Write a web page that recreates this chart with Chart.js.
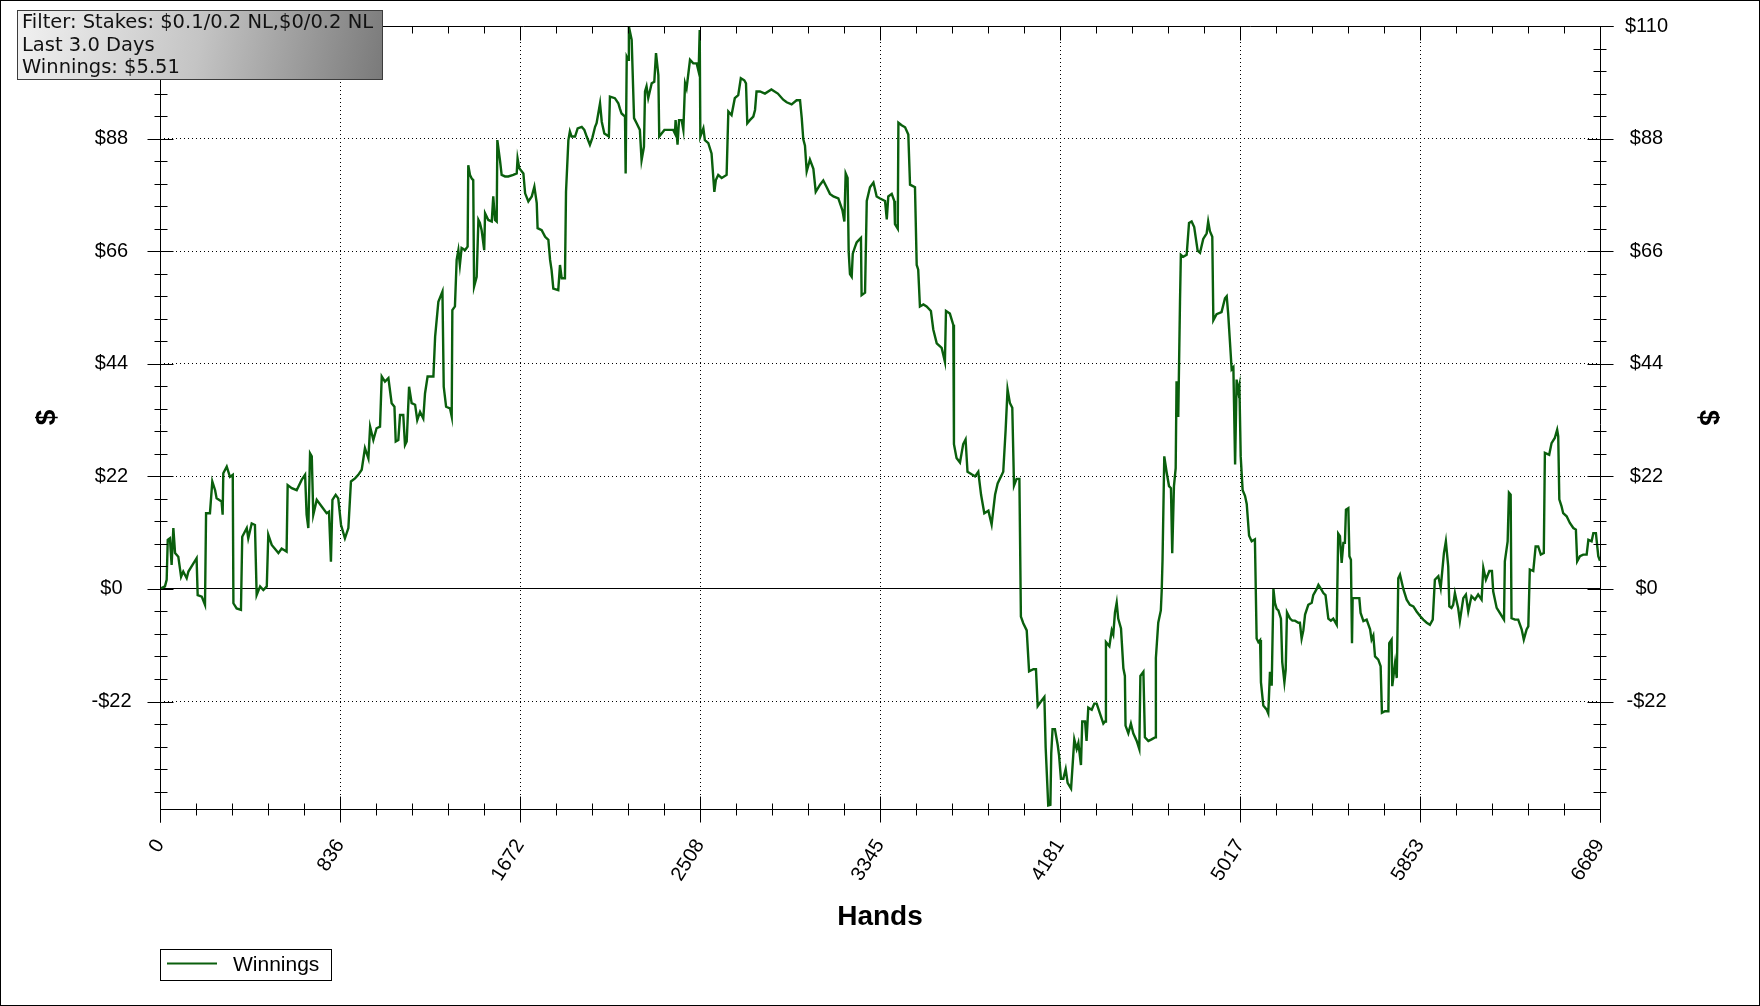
<!DOCTYPE html>
<html>
<head>
<meta charset="utf-8">
<title>Winnings</title>
<script src="https://cdn.jsdelivr.net/npm/chart.js@4.4.1/dist/chart.umd.min.js"></script>
<style>
  html, body { margin: 0; padding: 0; background: #fff; }
  #chart-winnings { display: block; }
</style>
</head>
<body>
<canvas id="chart-winnings" width="1760" height="1006"></canvas>
<script>
// hands played (x) and running winnings in $ (y)
const hands = [
  0, 23, 31, 36, 46, 54, 62, 70, 85, 98,
  108, 124, 132, 170, 175, 194, 209, 214, 232, 243,
  256, 263, 286, 291, 294, 310, 325, 338, 341, 356,
  376, 382, 403, 410, 426, 441, 449, 465, 480, 496,
  503, 519, 550, 565, 588, 593, 612, 635, 658, 674,
  681, 689, 697, 705, 712, 728, 751, 774, 785, 794,
  801, 816, 828, 841, 859, 875, 887, 906, 921, 937,
  952, 968, 976, 991, 1006, 1022, 1030, 1045, 1061, 1076,
  1089, 1095, 1107, 1115, 1130, 1138, 1146, 1157, 1169, 1185,
  1195, 1208, 1223, 1231, 1243, 1270, 1278, 1293, 1312, 1318,
  1329, 1347, 1355, 1358, 1370,
  1378, 1386, 1393, 1401, 1417, 1429, 1432, 1440, 1448, 1455,
  1459, 1471, 1479, 1486, 1494, 1506, 1510, 1525, 1541, 1548,
  1556, 1564, 1567, 1580, 1587, 1603, 1618, 1641, 1657, 1661,
  1669, 1688, 1696, 1711, 1727, 1739, 1750, 1754, 1773, 1789,
  1804, 1812, 1819, 1827, 1850, 1858, 1866, 1881, 1886, 1897,
  1904, 1912, 1928, 1940, 1959, 1971, 1982, 1997, 2008, 2021,
  2028, 2044, 2052, 2064, 2075, 2085, 2090, 2113, 2129, 2136,
  2144, 2160, 2163, 2168, 2175, 2178, 2191, 2202, 2214, 2229,
  2237, 2248, 2253, 2260, 2268, 2284, 2296, 2304, 2315, 2319,
  2330, 2343, 2361, 2384, 2392, 2395, 2404, 2411, 2423, 2431,
  2439, 2446, 2462, 2477, 2493, 2502, 2507, 2510, 2524, 2531,
  2547, 2562, 2575, 2582, 2593, 2609, 2632, 2640, 2655, 2670,
  2686, 2698, 2714, 2722, 2728, 2740, 2756, 2764, 2771, 2787,
  2810, 2840, 2870, 2895,
  2911, 2934, 2957, 2973, 2981, 2988, 2996, 3004, 3019, 3035,
  3046, 3066, 3081, 3097, 3112, 3128, 3151, 3170, 3179, 3185,
  3194, 3199, 3205, 3213, 3218, 3228, 3236, 3247, 3256, 3259,
  3275, 3283, 3298, 3314, 3329, 3345, 3368, 3376, 3383, 3399,
  3411, 3414, 3427, 3430, 3445, 3461, 3476, 3484, 3507, 3515,
  3522, 3530, 3546, 3561, 3581, 3592, 3608, 3631, 3646, 3651,
  3669, 3685, 3688, 3700, 3716, 3731, 3742, 3751, 3770, 3786,
  3801, 3814, 3829, 3848, 3863, 3879, 3891, 3917, 3928, 3937,
  3948, 3959, 3967, 3979, 3992, 3999, 4010, 4026, 4037, 4057,
  4069, 4077, 4092, 4108, 4114, 4126, 4136, 4140, 4146, 4157,
  4170, 4176, 4185, 4196, 4207, 4216, 4232, 4238, 4247, 4258,
  4266, 4278, 4284, 4297, 4304, 4312, 4328, 4340, 4351, 4366,
  4382, 4390, 4394, 4410, 4421, 4428, 4436, 4444, 4451, 4464,
  4475, 4482, 4485, 4498, 4510, 4521, 4537, 4549, 4554, 4568,
  4575, 4591, 4606, 4622, 4626, 4637, 4649, 4653, 4657, 4665,
  4676, 4687, 4696, 4702, 4710, 4718, 4722, 4730, 4738, 4742,
  4753, 4769, 4780, 4792, 4804, 4820, 4831, 4846, 4862, 4869,
  4877, 4888, 4893, 4908, 4931, 4947, 4955, 4962, 4970, 4978,
  4986, 4994, 5001, 5009, 5014, 5020, 5029, 5040, 5048, 5059,
  5071, 5086, 5094, 5102, 5110, 5114, 5125, 5141, 5148, 5156,
  5164, 5172, 5179, 5187, 5195, 5207, 5213, 5223, 5229, 5235,
  5249, 5260, 5272, 5288, 5295, 5303, 5311, 5319, 5334, 5350,
  5357, 5373, 5381, 5393, 5404, 5414, 5427, 5439, 5450, 5466,
  5473, 5481,
  5489, 5497, 5504, 5509, 5520, 5525, 5532, 5537, 5540, 5556,
  5571, 5577, 5590, 5605, 5621, 5628, 5636, 5644, 5659, 5670,
  5676, 5690, 5706, 5710, 5721, 5724, 5737, 5745, 5752, 5760,
  5776, 5791, 5806, 5822, 5837, 5853, 5868, 5884, 5899, 5912,
  5922, 5938, 5949, 5964, 5973, 5984, 5989, 5999, 6007, 6015,
  6023, 6030, 6038, 6054, 6066, 6077, 6092, 6108, 6123, 6139,
  6147, 6159, 6175, 6187, 6193, 6209, 6224, 6243, 6247, 6260,
  6266, 6274, 6278, 6294, 6309, 6325, 6335, 6348, 6356, 6363,
  6379, 6390, 6402, 6414, 6428, 6433, 6453, 6464, 6479, 6490,
  6495, 6500, 6510, 6518, 6534, 6549, 6565, 6577, 6583, 6596,
  6611, 6627, 6635, 6650, 6658, 6670, 6681, 6689
];
const winnings = [
  0, 0.5, 1.8, 9.6, 9.9, 4.7, 11.9, 7.0, 6.3, 2.4,
  3.4, 2.1, 3.4, 6.0, -1.2, -1.5, -3.1, 14.8, 14.8, 21.0,
  19.3, 17.7, 17.1, 14.5, 22.6, 23.9, 21.9, 22.3, -2.8, -3.8,
  -4.1, 10.2, 11.9, 9.9, 12.8, 12.5, -1.2, 0.5, -0.2, 0.5,
  10.6, 8.6, 7.0, 7.9, 7.3, 20.3, 19.7, 19.3, 21.3, 22.3,
  14.5, 11.9, 26.5, 25.9, 14.5, 17.4, 16.1, 14.8, 15.1, 5.3,
  17.4, 18.4, 17.7, 12.5, 9.9, 11.9, 21.0, 21.6, 22.3, 23.3,
  27.5, 25.5, 31.7, 29.1, 31.4, 31.7, 41.5, 40.5, 41.2, 36.3,
  35.6, 28.8, 29.1, 34.0, 34.0, 28.1, 28.8, 39.5, 36.3, 36.0,
  33.0, 34.6, 33.3, 38.2, 41.5, 41.5, 49.3, 56.1, 58.1, 39.5,
  35.6, 35.3, 33.7, 54.5, 55.2,
  64.3, 66.2, 63.3, 66.6, 66.2, 66.9, 82.8, 80.9, 80.2, 79.9,
  59.1, 61.0, 72.1, 71.5, 70.1, 66.2, 73.4, 72.1, 71.8, 76.7,
  72.1, 71.8, 87.7, 83.5, 80.9, 80.6, 80.6, 80.9, 81.2, 84.1,
  82.2, 81.2, 77.3, 75.7, 76.7, 78.6, 75.4, 70.5, 70.1, 68.8,
  68.2, 64.3, 62.3, 58.7, 58.4, 63.3, 60.7, 60.7, 77.6, 87.7,
  89.4, 88.4, 88.4, 90.0, 90.3, 89.7, 88.4, 86.8, 88.1, 90.3,
  91.0, 94.9, 91.3, 89.0, 88.7, 88.4, 96.2, 95.9, 94.9, 93.9,
  92.9, 92.3, 81.2, 104.0, 103.4, 109.9, 107.3, 92.0, 91.0, 89.7,
  83.8, 86.4, 97.2, 98.2, 95.9, 98.8, 99.1, 104.7, 100.4, 88.4,
  89.0, 89.7, 89.7, 89.7, 89.0, 91.6, 86.8, 91.6, 91.6, 89.7,
  98.8, 97.8, 103.4, 102.7, 102.7, 101.1, 109.2, 88.4, 90.0, 87.7,
  87.1, 85.1, 77.6, 79.9, 80.9, 80.3, 80.9, 93.3, 92.6, 95.9,
  96.5, 99.8, 99.4, 98.8, 91.0, 91.6, 92.3, 93.6, 97.2, 97.2,
  96.8, 97.6, 96.8, 95.6,
  95.1, 94.7, 95.5, 95.5, 92.0, 87.9, 86.6, 81.6, 83.9, 82.1,
  77.6, 79.0, 79.8, 78.5, 77.2, 76.7, 76.3, 74.0, 71.8, 81.2,
  80.3, 65.9, 61.5, 61.0, 65.5, 66.8, 67.7, 68.2, 68.6, 57.4,
  57.9, 75.8, 78.5, 79.4, 76.7, 76.3, 75.8, 72.2, 76.7, 77.2,
  75.8, 71.3, 70.4, 91.1, 90.6, 90.2, 88.8, 79.0, 78.5, 63.3,
  62.4, 55.2, 55.6, 55.2, 54.3, 50.7, 48.0, 47.1, 44.4, 54.3,
  53.8, 51.6, 28.3, 25.6, 24.7, 28.3, 29.2, 22.9, 22.4, 22.0,
  22.9, 18.4, 14.8, 15.3, 12.6, 18.4, 20.6, 22.9, 31.0, 39.0,
  36.3, 35.4, 20.2, 21.5, 21.5, -5.4, -6.7, -8.1, -16.1, -15.7,
  -15.7, -22.9, -22.0, -21.1, -31.0, -42.3, -42.2, -32.1, -27.4, -27.4,
  -30.5, -32.4, -37.1, -37.1, -35.2, -37.9, -39.0, -35.2, -29.4, -31.3,
  -30.1, -34.4, -25.9, -25.9, -29.7, -23.2, -23.6, -22.4, -22.4, -24.3,
  -26.3, -25.9, -10.4, -11.2, -8.1, -8.9, -4.6, -2.7, -5.8, -7.7,
  -15.5, -17.0, -26.7, -28.2, -26.3, -28.2, -29.7, -31.3, -17.0, -16.2,
  -29.0, -29.7, -29.4, -29.0, -13.5, -6.6, -4.2, -0.4, 5.8, 25.9,
  22.8, 20.1, 19.7, 7.0, 20.1, 23.6, 40.6, 33.6, 56.0, 65.3,
  64.9, 65.3, 71.5, 71.8, 70.7, 66.1, 65.7, 68.4, 69.5, 71.8,
  69.9, 68.8, 52.5, 53.7, 54.1, 56.8, 57.2, 53.7, 48.3, 42.9,
  43.3, 24.3, 40.9, 38.6, 39.7, 25.9, 19.3, 18.2, 16.6, 10.4,
  9.3, 9.7, -9.7, -10.4, -10.0, -18.2, -22.8, -23.6, -24.3, -16.2,
  -18.9, 0.0, -2.7, -3.9, -4.2, -5.8, -14.3, -18.2, -15.8, -4.6,
  -5.8, -6.2, -6.2, -6.6, -6.6, -9.7, -8.1, -5.0, -3.1, -2.7,
  -1.2, 0.0, 0.8, 0.0, -0.8, -1.2, -5.8, -6.2, -5.8, -7.0,
  10.8, 10.3,
  5.1, 9.0, 9.0, 15.5, 15.8, 6.4, 5.7, -10.6, -1.8, -1.8,
  -1.8, -4.7, -6.3, -6.0, -7.9, -9.9, -9.1, -13.2, -13.8, -15.1,
  -24.2, -23.9, -23.9, -10.6, -9.9, -19.0, -14.5, -17.4, 2.1, 2.8,
  -0.1, -2.1, -3.1, -3.4, -4.4, -5.3, -6.0, -6.6, -7.0, -6.0,
  1.8, 2.5, 0.2, 7.0, 9.3, 4.4, -3.4, -3.7, -3.1, -0.8,
  -2.4, -3.7, -6.3, -1.8, -1.1, -4.4, -1.4, -2.1, -1.1, -2.1,
  4.1, 1.8, 3.5, 3.5, -0.5, -3.7, -4.7, -6.0, 5.4, 9.3,
  18.8, 18.4, -5.7, -6.0, -6.0, -7.9, -9.9, -7.9, -7.3, 3.8,
  3.5, 8.3, 8.3, 6.7, 7.0, 26.6, 26.2, 28.5, 29.5, 31.1,
  29.8, 17.5, 16.2, 14.8, 14.2, 12.9, 11.9, 11.6, 5.4, 6.4,
  6.7, 6.7, 9.6, 9.3, 10.9, 10.9, 6.4, 5.51
];

const handsTotal = 6689;
const xTickLabels = ['0', '836', '1672', '2508', '3345', '4181', '5017', '5853', '6689'];
const yTicks = [-22, 0, 22, 44, 66, 88, 110];
const yMin = -43;
const yMax = 110;
const yMinorStep = 4.4;
const filterLines = ['Filter: Stakes: $0.1/0.2 NL,$0/0.2 NL', 'Last 3.0 Days', 'Winnings: $5.51'];

const lineColor = '#0a5f0d';
const dollar = (v) => (v < 0 ? '-$' + Math.abs(v) : '$' + v);

function setXTicks(scale) {
  const step = handsTotal / (xTickLabels.length - 1);
  scale.ticks = xTickLabels.map((_, i) => ({ value: i * step }));
}
function setYTicks(scale) {
  scale.ticks = yTicks.map((v) => ({ value: v }));
}
// fixed gutter width; drop the label padding so the plot keeps its top edge
function fitYAxis(scale) {
  scale.width = 160;
  scale.paddingTop = 0;
  scale.paddingBottom = 0;
}

// axis lines + crossing tick marks, like the original tracker graph
const axisFrame = {
  id: 'axisFrame',
  afterDatasetsDraw(chart) {
    const { ctx, chartArea: a, scales: { x, y } } = chart;
    const L = Math.round(a.left) + 0.5;
    const R = Math.round(a.right) + 0.5;
    const T = Math.round(a.top) + 0.5;
    const B = Math.round(a.bottom) + 0.5;
    ctx.save();
    ctx.strokeStyle = '#000';
    ctx.lineWidth = 1;
    const line = (x1, y1, x2, y2) => {
      ctx.beginPath();
      ctx.moveTo(x1, y1);
      ctx.lineTo(x2, y2);
      ctx.stroke();
    };
    line(L, T, L, B + 13);
    line(R, T, R, B + 13);
    line(L, T, R + 13, T);
    line(L, B, R, B);

    const xStep = handsTotal / (xTickLabels.length - 1) / 5;
    for (let i = 0; i <= (xTickLabels.length - 1) * 5; i++) {
      const px = Math.round(x.getPixelForValue(i * xStep)) + 0.5;
      const major = i % 5 === 0;
      line(px, B - (major ? 13 : 6), px, B + (major ? 13 : 6));
      line(px, T, px, T + (major ? 14 : 7));
    }
    for (let k = Math.ceil(yMin / yMinorStep); k <= Math.floor(yMax / yMinorStep + 0.001); k++) {
      const py = Math.round(y.getPixelForValue(k * yMinorStep)) + 0.5;
      const major = k % 5 === 0;
      line(L - (major ? 13 : 6), py, L + (major ? 13 : 7), py);
      line(R - (major ? 13 : 7), py, R + (major ? 13 : 6), py);
    }
    ctx.restore();
  },
  afterDraw(chart) {
    const ctx = chart.ctx;
    ctx.save();

    // filter info box
    const grad = ctx.createLinearGradient(17, 10, 382, 79);
    grad.addColorStop(0, '#f2f2f2');
    grad.addColorStop(0.5, '#c4c4c4');
    grad.addColorStop(1, '#7a7a7a');
    ctx.fillStyle = grad;
    ctx.fillRect(17.5, 10.5, 365, 69);
    ctx.strokeStyle = '#3c3c3c';
    ctx.lineWidth = 1;
    ctx.strokeRect(17.5, 10.5, 365, 69);
    ctx.fillStyle = '#111';
    ctx.font = '19.5px "DejaVu Sans", Verdana, sans-serif';
    ctx.textAlign = 'left';
    ctx.textBaseline = 'alphabetic';
    filterLines.forEach((t, i) => ctx.fillText(t, 22, 28 + i * 22.5));

    // legend
    ctx.strokeStyle = '#000';
    ctx.strokeRect(160.5, 949.5, 171, 31);
    ctx.strokeStyle = lineColor;
    ctx.lineWidth = 2;
    ctx.beginPath();
    ctx.moveTo(167, 963.5);
    ctx.lineTo(217, 963.5);
    ctx.stroke();
    ctx.fillStyle = '#000';
    ctx.font = '21px "Liberation Sans", Arial, sans-serif';
    ctx.fillText(chart.data.datasets[0].label, 233, 971);

    // outer frame
    ctx.strokeStyle = '#000';
    ctx.lineWidth = 1;
    ctx.strokeRect(0.5, 0.5, 1759, 1005);
    ctx.restore();
  }
};

Chart.defaults.font.family = '"Liberation Sans", Arial, sans-serif';
Chart.defaults.color = '#000';

const ctx = document.getElementById('chart-winnings').getContext('2d');
new Chart(ctx, {
  type: 'line',
  data: {
    datasets: [
      {
        label: 'Winnings',
        data: hands.map((h, i) => ({ x: h, y: winnings[i] })),
        borderColor: lineColor,
        borderWidth: 2.4,
        pointRadius: 0,
        tension: 0,
        fill: false,
        yAxisID: 'y',
      },
    ],
  },
  options: {
    responsive: false,
    animation: false,
    devicePixelRatio: 1,
    layout: { padding: { top: 26, left: 0, right: 0, bottom: 0 } },
    plugins: { legend: { display: false }, tooltip: { enabled: false } },
    scales: {
      x: {
        type: 'linear',
        position: 'bottom',
        min: 0,
        max: handsTotal,
        afterBuildTicks: setXTicks,
        afterFit: (s) => { s.height = 197; },
        ticks: {
          autoSkip: false,
          minRotation: 58,
          maxRotation: 58,
          padding: 26,
          font: { size: 20 },
          callback: (v, i) => xTickLabels[i],
        },
        grid: {
          drawTicks: false,
          color: (c) => (c.tick && (c.tick.value <= 0 || c.tick.value >= handsTotal) ? 'rgba(0,0,0,0)' : '#000'),
        },
        border: { display: false, dash: [1, 3] },
        title: {
          display: true,
          text: 'Hands',
          font: { size: 28, weight: 'bold' },
          padding: { top: 0, bottom: 72 },
        },
      },
      y: {
        type: 'linear',
        position: 'left',
        min: yMin,
        max: yMax,
        afterBuildTicks: setYTicks,
        afterFit: fitYAxis,
        ticks: {
          crossAlign: 'center',
          padding: 27,
          font: { size: 20 },
          callback: dollar,
        },
        grid: {
          drawTicks: false,
          color: (c) => (c.tick && c.tick.value >= yMax ? 'rgba(0,0,0,0)' : '#000'),
        },
        border: { display: false, dash: (c) => (c.tick && c.tick.value === 0 ? [] : [1, 3]) },
        title: {
          display: true,
          text: '$',
          font: { size: 28, weight: 'bold' },
          padding: { top: 30, bottom: 0 },
        },
      },
      y2: {
        type: 'linear',
        position: 'right',
        min: yMin,
        max: yMax,
        afterBuildTicks: setYTicks,
        afterFit: fitYAxis,
        ticks: {
          crossAlign: 'center',
          padding: 25,
          font: { size: 20 },
          callback: dollar,
        },
        grid: { drawTicks: false, drawOnChartArea: false },
        border: { display: false },
        title: {
          display: true,
          text: '$',
          font: { size: 28, weight: 'bold' },
          padding: { top: 35, bottom: 0 },
        },
      },
    },
  },
  plugins: [axisFrame],
});
</script>
</body>
</html>
